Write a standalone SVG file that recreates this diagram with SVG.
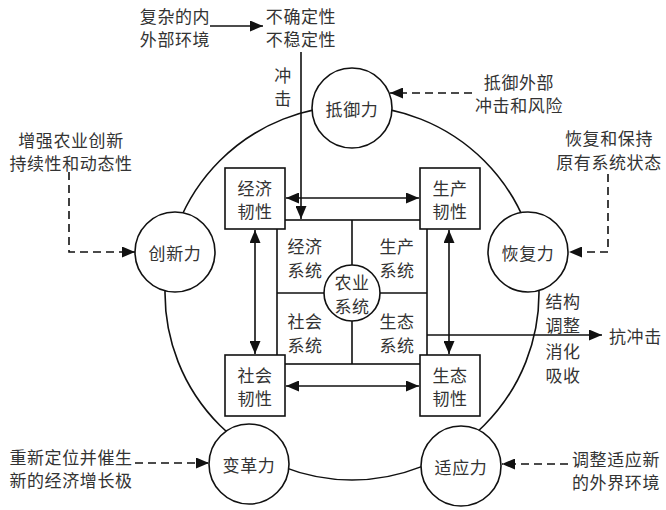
<svg xmlns="http://www.w3.org/2000/svg" width="666" height="510" viewBox="0 0 666 510">
<defs>
<marker id="ah" markerUnits="userSpaceOnUse" markerWidth="13" markerHeight="11" viewBox="0 0 13 11" refX="13" refY="5.5" orient="auto-start-reverse">
<path d="M0,0 L13,5.5 L0,11 z" fill="#111"/>
</marker>
<style>
text{font-family:"Noto Sans CJK SC","Liberation Sans",sans-serif;font-size:17px;letter-spacing:0.6px;fill:#333;text-anchor:middle;dominant-baseline:central}
.s{text-anchor:start}
.ln{fill:none;stroke:#111;stroke-width:1.6}
.ar{fill:none;stroke:#111;stroke-width:1.6;marker-end:url(#ah)}
.da{fill:none;stroke:#111;stroke-width:1.6;stroke-dasharray:8 5;marker-end:url(#ah)}
.db{fill:none;stroke:#111;stroke-width:1.6;marker-end:url(#ah);marker-start:url(#ah)}
.nd{fill:#fff;stroke:#111;stroke-width:1.6}
</style>
</defs>
<rect width="666" height="510" fill="#fff"/>
<g id="outer-ring"><circle class="ln" cx="352" cy="293" r="187"/></g>
<g id="inner-frame">
<rect class="ln" x="277" y="220" width="150" height="144"/>
<path class="ln" d="M352,220 V364 M277,293 H427"/>
</g>
<g id="connectors">
<path class="ar" d="M210,26 H263"/>
<path class="ar" d="M301,52 V219"/>
<path class="da" d="M472,93 H390"/>
<path class="da" d="M608,174 V252 H569"/>
<path class="da" d="M69,172 V252 H135"/>
<path class="da" d="M135,463 H209"/>
<path class="da" d="M568,464 H502"/>
<path class="db" d="M286,198 H419"/>
<path class="db" d="M255,230 V354"/>
<path class="db" d="M449,230 V354"/>
<path class="db" d="M286,386 H419"/>
<path class="ar" d="M427,335 H602"/>
</g>
<g id="node-agri"><circle class="nd" cx="352" cy="293" r="28"/><text x="352" y="281.5">农业<tspan x="352" dy="23">系统</tspan></text></g>
<g id="node-dingyu"><circle class="nd" cx="352" cy="108" r="40"/><text x="352" y="108">抵御力</text></g>
<g id="node-chuangxin"><circle class="nd" cx="175" cy="252" r="40"/><text x="175" y="252">创新力</text></g>
<g id="node-huifu"><circle class="nd" cx="528" cy="252" r="40"/><text x="528" y="252">恢复力</text></g>
<g id="node-biange"><circle class="nd" cx="249" cy="464" r="40"/><text x="249" y="464">变革力</text></g>
<g id="node-shiying"><circle class="nd" cx="461" cy="466" r="40"/><text x="461" y="466">适应力</text></g>
<g id="node-jingji"><rect class="nd" x="225" y="168" width="60" height="61"/><text x="255" y="187">经济<tspan x="255" dy="23">韧性</tspan></text></g>
<g id="node-shengchan"><rect class="nd" x="420" y="168" width="60" height="61"/><text x="450" y="187">生产<tspan x="450" dy="23">韧性</tspan></text></g>
<g id="node-shehui"><rect class="nd" x="225" y="355" width="60" height="61"/><text x="255" y="374">社会<tspan x="255" dy="23">韧性</tspan></text></g>
<g id="node-shengtai"><rect class="nd" x="420" y="355" width="60" height="61"/><text x="450" y="374">生态<tspan x="450" dy="23">韧性</tspan></text></g>
<g id="labels">
<text x="305" y="245.5">经济<tspan x="305" dy="23">系统</tspan></text>
<text x="397" y="245.5">生产<tspan x="397" dy="23">系统</tspan></text>
<text x="305" y="320.5">社会<tspan x="305" dy="23">系统</tspan></text>
<text x="397" y="320.5">生态<tspan x="397" dy="23">系统</tspan></text>
<text x="175" y="15">复杂的内<tspan x="175" dy="23">外部环境</tspan></text>
<text x="301" y="15">不确定性<tspan x="301" dy="23">不稳定性</tspan></text>
<text x="283" y="74">冲<tspan x="283" dy="23">击</tspan></text>
<text x="519" y="81">抵御外部<tspan x="519" dy="23">冲击和风险</tspan></text>
<text x="609" y="137.5">恢复和保持<tspan x="609" dy="23">原有系统状态</tspan></text>
<text x="71" y="139">增强农业创新<tspan x="71" dy="23">持续性和动态性</tspan></text>
<text x="71" y="456">重新定位并催生<tspan x="71" dy="23">新的经济增长极</tspan></text>
<text class="s" x="572" y="458">调整适应新<tspan x="572" dy="23">的外界环境</tspan></text>
<text x="563" y="300.5">结构<tspan x="563" dy="23">调整</tspan></text>
<text x="563" y="350.5">消化<tspan x="563" dy="23">吸收</tspan></text>
<text class="s" x="609" y="335">抗冲击</text>
</g>
</svg>
